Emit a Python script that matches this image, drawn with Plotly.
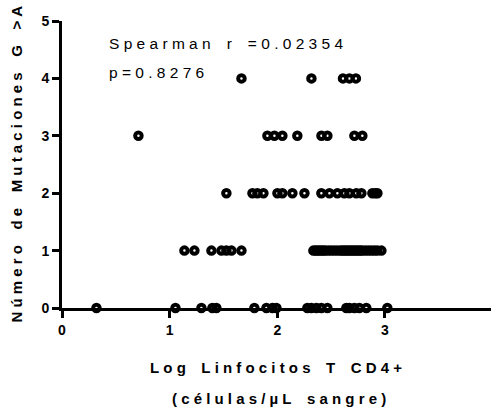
import plotly.graph_objects as go

# Data
log_cd4 = [
    # mutations = 4
    1.667, 2.317, 2.61, 2.67, 2.73,
    # mutations = 3
    0.71, 1.908, 1.973, 2.047, 2.186, 2.41, 2.465, 2.716, 2.79,
    # mutations = 2
    1.527, 1.769, 1.815, 1.871, 2.001, 2.047, 2.14, 2.252, 2.409, 2.484,
    2.558, 2.623, 2.669, 2.734, 2.781, 2.883, 2.911, 2.93,
    # mutations = 1
    1.137, 1.230, 1.388, 1.481, 1.527, 1.574, 1.667,
    2.335, 2.354, 2.372, 2.391, 2.409, 2.428, 2.447, 2.475, 2.502, 2.530,
    2.558, 2.586, 2.605, 2.623, 2.641, 2.660, 2.679, 2.697, 2.716, 2.734,
    2.753, 2.771, 2.790, 2.818, 2.846, 2.874, 2.902, 2.929, 2.967,
    # mutations = 0
    0.32, 1.054, 1.295, 1.397, 1.434, 1.787, 1.899, 1.955, 1.992, 2.279,
    2.316, 2.363, 2.409, 2.465, 2.641, 2.669, 2.716, 2.762, 2.827, 3.022,
]
mutations = [4] * 5 + [3] * 9 + [2] * 18 + [1] * 36 + [0] * 20

x_ticks = [0, 1, 2, 3, 4]
y_ticks = [0, 1, 2, 3, 4, 5]

y_title = "Número de Mutaciones G >A"
x_title_1 = "Log Linfocitos T CD4+"
x_title_2 = "(células/µL sangre)"
stat_1 = "Spearman r =0.02354"
stat_2 = "p=0.8276"

NB = "\u00a0"


def spaced(s):
    out = []
    for ch in s:
        out.append(NB + "\u2009" if ch == " " else ch)
    return NB.join(out)


FONT = "Liberation Sans, Arial, sans-serif"
BOLD = dict(family=FONT, weight="bold")

fig = go.Figure()
fig.add_trace(go.Scatter(
    x=log_cd4, y=mutations, mode="markers",
    marker=dict(symbol="circle", size=6.5, color="rgba(0,0,0,0)",
                line=dict(width=4, color="black")),
    cliponaxis=False, showlegend=False,
))

fig.update_layout(
    width=491, height=409,
    margin=dict(l=62, r=0, t=21, b=101),
    paper_bgcolor="white", plot_bgcolor="white",
    font=dict(family=FONT, color="black"),
    xaxis=dict(range=[0, 3.985], tickvals=x_ticks[:-1], ticktext=[str(v) for v in x_ticks[:-1]],
               showgrid=False, zeroline=False, showline=True, linewidth=3, linecolor="black",
               ticks="outside", ticklen=7, tickwidth=2.5, tickcolor="black",
               tickfont=dict(size=14, **BOLD), fixedrange=True),
    yaxis=dict(range=[0, 5], tickvals=y_ticks, ticktext=[str(v) for v in y_ticks],
               showgrid=False, zeroline=False, showline=True, linewidth=3, linecolor="black",
               ticks="outside", ticklen=7, tickwidth=2.5, tickcolor="black",
               tickfont=dict(size=14, **BOLD), fixedrange=True),
)

annos = [
    dict(text=spaced(y_title), xref="paper", yref="paper", x=0, y=0.5,
         xanchor="center", yanchor="middle", xshift=-46, textangle=-90,
         font=dict(size=15, **BOLD)),
    dict(text=spaced(x_title_1), xref="paper", yref="paper", x=0.5, y=0,
         xanchor="center", yanchor="middle", yshift=-59, xshift=-1,
         font=dict(size=15, **BOLD)),
    dict(text=spaced(x_title_2), xref="paper", yref="paper", x=0.5, y=0,
         xanchor="center", yanchor="middle", yshift=-90, xshift=2,
         font=dict(size=15, **BOLD)),
    dict(text=spaced(stat_1), xref="paper", yref="paper", x=0, y=1,
         xanchor="left", yanchor="middle", xshift=45, yshift=-22,
         font=dict(size=15.5, family=FONT)),
    dict(text=spaced(stat_2), xref="paper", yref="paper", x=0, y=1,
         xanchor="left", yanchor="middle", xshift=45, yshift=-51,
         font=dict(size=15.5, family=FONT)),
    dict(text=str(x_ticks[-1]), xref="x", yref="paper", x=x_ticks[-1], y=0,
         xanchor="center", yanchor="top", yshift=-17,
         font=dict(size=14, **BOLD)),
]
for a in annos:
    a.setdefault("showarrow", False)
    fig.add_annotation(**a)

fig.write_html("out.html")
